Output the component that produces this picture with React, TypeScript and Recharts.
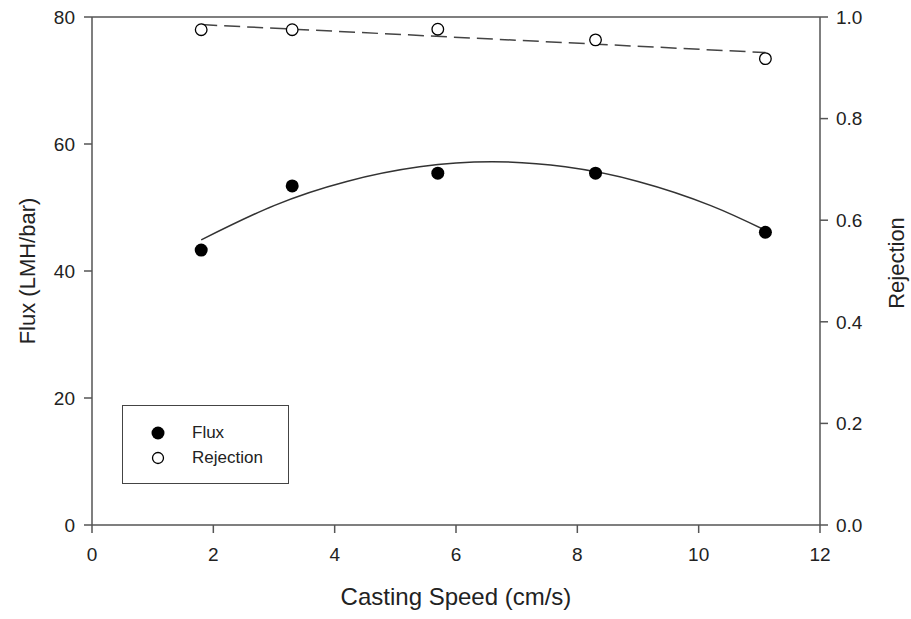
import React from "react";
import {
  ComposedChart,
  Line,
  Scatter,
  XAxis,
  YAxis,
  ReferenceLine,
} from "recharts";

// measured points
const speeds = [1.8, 3.3, 5.7, 8.3, 11.1];
const fluxValues = [43.3, 53.4, 55.4, 55.4, 46.1];
const rejectionValues = [0.975, 0.975, 0.976, 0.955, 0.918];

// fitted curves
const fluxFitSpeeds = [1.8, 3.0, 4.2, 5.4, 6.6, 7.8, 9.0, 10.2, 11.1];
const fluxFitValues = [44.9, 50.3, 54.1, 56.4, 57.2, 56.4, 54.1, 50.3, 46.4];
const rejectionFitSpeeds = [1.8, 11.1];
const rejectionFitValues = [0.985, 0.93];

const xTicks = [0, 2, 4, 6, 8, 10, 12];
const fluxTicks = [0, 20, 40, 60, 80];
const rejectionTicks = [0, 0.2, 0.4, 0.6, 0.8, 1.0];

const fluxPts = speeds.map((x, i) => ({ x, flux: fluxValues[i] }));
const rejPts = speeds.map((x, i) => ({ x, rej: rejectionValues[i] }));
const fluxFit = fluxFitSpeeds.map((x, i) => ({ x, flux: fluxFitValues[i] }));
const rejFit = rejectionFitSpeeds.map((x, i) => ({
  x,
  rej: rejectionFitValues[i],
}));

const AXIS = "#555";
const FONT = "'Liberation Sans', Arial, sans-serif";

const FilledDot = (p: any) => <circle cx={p.cx} cy={p.cy} r={6.5} fill="#000" />;
const OpenDot = (p: any) => (
  <circle cx={p.cx} cy={p.cy} r={5.8} fill="#fff" stroke="#000" strokeWidth={1.3} />
);

const LegendBox = () => (
  <div
    style={{
      position: "absolute",
      left: 122,
      top: 405,
      width: 167,
      height: 79,
      boxSizing: "border-box",
      border: "1.5px solid #444",
      fontFamily: FONT,
      fontSize: 17,
      color: "#222",
      background: "#fff",
    }}
  >
    <svg width={20} height={60} style={{ position: "absolute", left: 25, top: 14 }}>
      <circle cx={10} cy={13} r={6.5} fill="#000" />
      <circle cx={10} cy={38} r={5.5} fill="#fff" stroke="#000" strokeWidth={1.3} />
    </svg>
    <div style={{ position: "absolute", left: 69, top: 17 }}>Flux</div>
    <div style={{ position: "absolute", left: 69, top: 42 }}>Rejection</div>
  </div>
);

export default function App() {
  return (
    <div style={{ position: "absolute", left: 0, top: 0, width: 911, height: 619 }}>
      <ComposedChart
        width={911}
        height={619}
        margin={{ top: 17, right: 0, bottom: 0, left: 0 }}
        style={{ fontFamily: FONT }}
      >
        <XAxis
          dataKey="x"
          type="number"
          domain={[0, 12]}
          ticks={xTicks}
          height={94}
          stroke={AXIS}
          strokeWidth={1.5}
          tickSize={8}
          tickMargin={15}
          tick={{ fill: "#222", fontSize: 19 }}
          label={{
            value: "Casting Speed (cm/s)",
            position: "insideBottom",
            offset: 14,
            fill: "#222",
            fontSize: 24,
          }}
        />
        <YAxis
          yAxisId="left"
          domain={[0, 80]}
          ticks={fluxTicks}
          width={92}
          stroke={AXIS}
          strokeWidth={1.5}
          tickSize={8}
          tickMargin={9}
          tick={{ fill: "#222", fontSize: 19 }}
          label={{
            value: "Flux (LMH/bar)",
            angle: -90,
            position: "center",
            dx: -19,
            fill: "#222",
            fontSize: 22,
          }}
        />
        <YAxis
          yAxisId="right"
          orientation="right"
          domain={[0, 1]}
          ticks={rejectionTicks}
          tickFormatter={(v: number) => v.toFixed(1)}
          width={91}
          stroke={AXIS}
          strokeWidth={1.5}
          tickSize={8}
          tickMargin={8}
          tick={{ fill: "#222", fontSize: 19 }}
          label={{
            value: "Rejection",
            angle: -90,
            position: "center",
            dx: 31,
            dy: -8,
            fill: "#222",
            fontSize: 22,
          }}
        />
        <ReferenceLine yAxisId="left" y={80} stroke={AXIS} strokeWidth={1.5} />
        <Line
          yAxisId="left"
          data={fluxFit}
          dataKey="flux"
          type="natural"
          stroke="#333"
          strokeWidth={1.5}
          dot={false}
          isAnimationActive={false}
        />
        <Line
          yAxisId="right"
          data={rejFit}
          dataKey="rej"
          type="linear"
          stroke="#444"
          strokeWidth={1.5}
          strokeDasharray="16 7"
          dot={false}
          isAnimationActive={false}
        />
        <Scatter
          yAxisId="left"
          data={fluxPts}
          dataKey="flux"
          name="Flux"
          shape={FilledDot}
          isAnimationActive={false}
        />
        <Scatter
          yAxisId="right"
          data={rejPts}
          dataKey="rej"
          name="Rejection"
          shape={OpenDot}
          isAnimationActive={false}
        />
      </ComposedChart>
      <LegendBox />
    </div>
  );
}
